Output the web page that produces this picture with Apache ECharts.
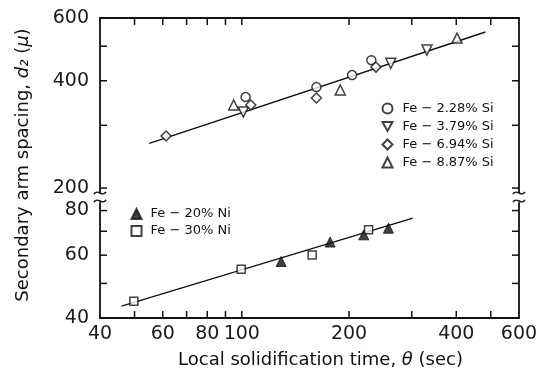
<!DOCTYPE html>
<html>
<head>
<meta charset="utf-8">
<script src="https://cdn.jsdelivr.net/npm/echarts@6/dist/echarts.min.js"></script>
<style>
  html, body { margin: 0; padding: 0; background: #fff; }
  #chart { width: 550px; height: 379px; }
</style>
</head>
<body>
<div id="chart"></div>
<script>
// upper panel: Fe-Si alloys, [local solidification time (sec), d2 (micron)]
const fe228Si = [[102.5, 360], [162, 384], [204, 415], [231, 457]];
const fe379Si = [[101, 327], [262, 448], [331, 488]];
const fe694Si = [[61.3, 280], [106, 342], [162, 358], [238, 437]];
const fe887Si = [[94.9, 342], [189, 377], [402, 527]];
const siFit = [[55, 267], [483, 548]];

// lower panel: Fe-Ni alloys
const fe20Ni = [[129, 57.6], [177, 65.3], [220, 68.4], [258, 71.4]];
const fe30Ni = [[49.8, 44.6], [99.6, 54.8], [157.6, 60.1], [227, 70.7]];
const niFit = [[46, 43.2], [302, 76.2]];

const xTicks = [50, 60, 70, 80, 90, 100, 200, 300, 400, 500];
const xLabels = [40, 60, 80, 100, 200, 400, 600];
const yTopTicks = [200, 300, 400, 500];
const yTopLabels = [200, 400, 600];
const yBotTicks = [50, 60, 70, 80];
const yBotLabels = [40, 60, 80];

const ink = '#111';
const font = 'DejaVu Sans';
const axisLine = {show: true, onZero: false, lineStyle: {color: ink, width: 1.8}};
const tickLabel = (vals) => ({
  customValues: vals, color: '#1a1a1a', fontSize: 19, fontFamily: font
});
const invTri = 'path://M0,0 L10,0 L5,9 Z';

var chart = echarts.init(document.getElementById('chart'));

const common = {type: 'log', logBase: 10, splitLine: {show: false}, minorTick: {show: false},
  axisTick: {show: false}, axisLine};
const xBase = {...common, min: 40, max: 600};
const yTop = {...common, min: 195, max: 600, gridIndex: 0};
const yBot = {...common, min: 40, max: 84, gridIndex: 1};

const hollow = {color: '#fff', borderColor: ink, borderWidth: 1.5};
const filled = {color: ink, borderColor: ink, borderWidth: 1};

const siLegend = ['Fe − 2.28% Si', 'Fe − 3.79% Si', 'Fe − 6.94% Si', 'Fe − 8.87% Si'];
const niLegend = ['Fe − 20% Ni', 'Fe − 30% Ni'];
const legendText = {fontSize: 13, fontFamily: font, color: ink};

chart.setOption({
  animation: false,
  backgroundColor: '#fff',
  grid: [
    {left: 100, right: 31, top: 18, height: 174},
    {left: 100, right: 31, top: 203, height: 115}
  ],
  xAxis: [
    {...xBase, gridIndex: 0, position: 'top', axisLabel: {show: false}},
    {...xBase, gridIndex: 1, position: 'bottom',
      axisLabel: {...tickLabel(xLabels), margin: 7},
      name: '{a|Local solidification time, }{i|θ}{a| (sec)}',
      nameLocation: 'middle', nameGap: 33,
      nameTextStyle: {padding: [0, 0, 0, 22], rich: {
        a: {fontSize: 18, fontFamily: font, color: ink},
        i: {fontSize: 18, fontFamily: font, fontStyle: 'italic', color: ink}
      }}
    }
  ],
  yAxis: [
    {...yTop, position: 'left', axisLabel: {...tickLabel(yTopLabels), margin: 11}},
    {...yTop, position: 'right', axisLabel: {show: false}},
    {...yBot, position: 'left', axisLabel: {...tickLabel(yBotLabels), margin: 11}},
    {...yBot, position: 'right', axisLabel: {show: false}}
  ],
  legend: [
    {data: siLegend, orient: 'vertical', left: 381.5, top: 102, padding: 0,
      itemWidth: 10, itemHeight: 10, itemGap: 5,
      textStyle: {...legendText, padding: [0, 0, 0, 5]}},
    {data: niLegend, orient: 'vertical', left: 130.5, top: 207.5, padding: 0,
      itemWidth: 10, itemHeight: 10, itemGap: 4,
      textStyle: {...legendText, padding: [0, 0, 0, 4]}}
  ],
  series: [
    {type: 'line', data: siFit, xAxisIndex: 0, yAxisIndex: 0, symbol: 'none', silent: true,
      lineStyle: {color: ink, width: 1.4}, z: 1},
    {type: 'line', data: niFit, xAxisIndex: 1, yAxisIndex: 2, symbol: 'none', silent: true,
      lineStyle: {color: ink, width: 1.4}, z: 1},
    {name: siLegend[0], type: 'scatter', data: fe228Si, xAxisIndex: 0, yAxisIndex: 0,
      symbol: 'circle', symbolSize: 9, itemStyle: hollow},
    {name: siLegend[1], type: 'scatter', data: fe379Si, xAxisIndex: 0, yAxisIndex: 0,
      symbol: invTri, symbolSize: 10, itemStyle: hollow},
    {name: siLegend[2], type: 'scatter', data: fe694Si, xAxisIndex: 0, yAxisIndex: 0,
      symbol: 'diamond', symbolSize: 10, itemStyle: hollow},
    {name: siLegend[3], type: 'scatter', data: fe887Si, xAxisIndex: 0, yAxisIndex: 0,
      symbol: 'triangle', symbolSize: 10, itemStyle: hollow},
    {name: niLegend[0], type: 'scatter', data: fe20Ni, xAxisIndex: 1, yAxisIndex: 2,
      symbol: 'triangle', symbolSize: 10, itemStyle: filled},
    {name: niLegend[1], type: 'scatter', data: fe30Ni, xAxisIndex: 1, yAxisIndex: 2,
      symbol: 'rect', symbolSize: 8, itemStyle: hollow}
  ]
});

// inward ticks on all four sides, placed through the axes
const tickLen = 7;
const seg = (x1, y1, x2, y2) => ({type: 'line', silent: true,
  shape: {x1, y1, x2, y2}, style: {stroke: ink, lineWidth: 1.5}});
const px = (opt, v) => chart.convertToPixel(opt, v);
const xl = px({xAxisIndex: 1}, 40);
const xr = px({xAxisIndex: 1}, 600);
const yTopEdge = px({yAxisIndex: 0}, 600);
const yBotEdge = px({yAxisIndex: 2}, 40);
const ticks = [];
xTicks.forEach(v => {
  const x = px({xAxisIndex: 0}, v);
  ticks.push(seg(x, yTopEdge, x, yTopEdge + tickLen));
  ticks.push(seg(x, yBotEdge, x, yBotEdge - tickLen));
});
yTopTicks.forEach(v => {
  const y = px({yAxisIndex: 0}, v);
  ticks.push(seg(xl, y, xl + tickLen, y));
  ticks.push(seg(xr, y, xr - tickLen, y));
});
yBotTicks.forEach(v => {
  const y = px({yAxisIndex: 2}, v);
  ticks.push(seg(xl, y, xl + tickLen, y));
  ticks.push(seg(xr, y, xr - tickLen, y));
});

// axis break marks
const yb1 = px({yAxisIndex: 0}, 195) + 1;
const yb2 = px({yAxisIndex: 2}, 84) - 2;
const squiggle = (x, y) => ({
  type: 'bezierCurve', silent: true,
  shape: {x1: x - 6, y1: y + 1, cpx1: x - 2, cpy1: y - 5, cpx2: x + 2, cpy2: y + 5, x2: x + 6, y2: y - 1},
  style: {stroke: ink, lineWidth: 1.5, fill: null}
});

chart.setOption({
  graphic: [
    ...ticks,
    squiggle(xl, yb1), squiggle(xl, yb2), squiggle(xr, yb1), squiggle(xr, yb2),
    {type: 'text', x: 23, y: 165, rotation: Math.PI / 2,
      style: {
        text: '{a|Secondary arm spacing, }{i|d₂}{a| (}{i|μ}{a|)}',
        align: 'center', verticalAlign: 'middle',
        rich: {
          a: {fontSize: 18, fontFamily: font, fill: ink},
          i: {fontSize: 18, fontFamily: font, fontStyle: 'italic', fill: ink}
        }
      }}
  ]
});
</script>
</body>
</html>
